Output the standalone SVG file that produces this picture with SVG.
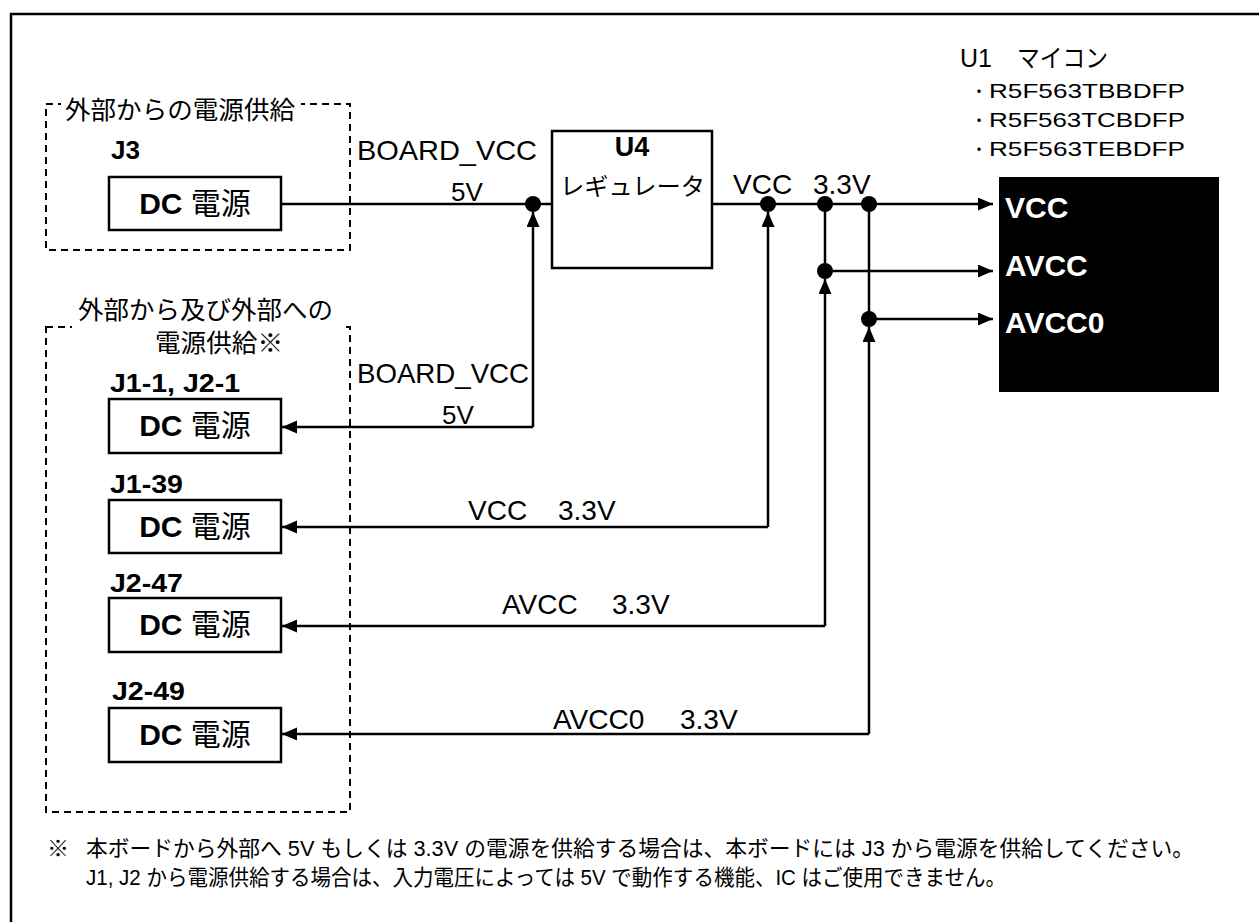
<svg xmlns="http://www.w3.org/2000/svg" width="1259" height="922" viewBox="0 0 1259 922">
<style>
text{font-family:"Liberation Sans","Noto Sans CJK JP",sans-serif;fill:#000}
.b{font-weight:bold}
.box{fill:#fff;stroke:#000;stroke-width:2.5}
.dash{fill:none;stroke:#000;stroke-width:2;stroke-dasharray:7 5}
.ln{fill:none;stroke:#000;stroke-width:2.5}
.arr{marker-end:url(#ah)}
.lbl{font-size:28px}
.dc{font-size:30px}
.jl{font-size:25px;font-weight:bold}
.pin{font-size:30px;font-weight:bold;fill:#fff}
.pn{font-size:21px}
.dot{font-size:16px}
</style>
<defs>
<marker id="ah" markerUnits="userSpaceOnUse" markerWidth="16" markerHeight="14" refX="15" refY="6.5" orient="auto">
<path d="M0,0 L15,6.5 L0,13 z" fill="#000"/>
</marker>
</defs>
<rect width="1259" height="922" fill="#fff"/>
<path d="M11,922 V14 H1259" fill="none" stroke="#000" stroke-width="2.5"/>

<g id="group-external">
<rect class="dash" x="46" y="104" width="304" height="146"/>
<rect x="61" y="98" width="240" height="12" fill="#fff"/>
<text x="65" y="119" font-size="25" textLength="230" lengthAdjust="spacingAndGlyphs">外部からの電源供給</text>
</g>
<g id="group-bidir">
<rect class="dash" x="46" y="327" width="304" height="485"/>
<rect x="72" y="322" width="273" height="10" fill="#fff"/>
<text x="78" y="319" font-size="25" textLength="255" lengthAdjust="spacingAndGlyphs">外部から及び外部への</text>
<text x="155" y="352" font-size="25" textLength="128" lengthAdjust="spacingAndGlyphs">電源供給※</text>
</g>

<g id="j3">
<text class="jl" x="111" y="159" textLength="29" lengthAdjust="spacingAndGlyphs">J3</text>
<rect class="box" x="109" y="177" width="172" height="53"/>
<text class="dc" x="195" y="214" text-anchor="middle"><tspan class="b">DC</tspan> 電源</text>
</g>
<g id="j1-1">
<text class="jl" x="110" y="392" textLength="130" lengthAdjust="spacingAndGlyphs">J1-1, J2-1</text>
<rect class="box" x="109" y="399" width="172" height="54"/>
<text class="dc" x="195" y="436" text-anchor="middle"><tspan class="b">DC</tspan> 電源</text>
</g>
<g id="j1-39">
<text class="jl" x="110" y="493" textLength="73" lengthAdjust="spacingAndGlyphs">J1-39</text>
<rect class="box" x="109" y="500" width="172" height="53"/>
<text class="dc" x="195" y="537" text-anchor="middle"><tspan class="b">DC</tspan> 電源</text>
</g>
<g id="j2-47">
<text class="jl" x="110" y="592" textLength="73" lengthAdjust="spacingAndGlyphs">J2-47</text>
<rect class="box" x="109" y="598" width="172" height="54"/>
<text class="dc" x="195" y="635" text-anchor="middle"><tspan class="b">DC</tspan> 電源</text>
</g>
<g id="j2-49">
<text class="jl" x="112" y="700" textLength="73" lengthAdjust="spacingAndGlyphs">J2-49</text>
<rect class="box" x="109" y="708" width="172" height="54"/>
<text class="dc" x="195" y="745" text-anchor="middle"><tspan class="b">DC</tspan> 電源</text>
</g>

<g id="u4">
<rect class="box" x="552" y="131" width="160" height="137"/>
<text class="b" x="632" y="156" font-size="27" text-anchor="middle">U4</text>
<text x="560" y="195" font-size="24" textLength="145" lengthAdjust="spacingAndGlyphs">レギュレータ</text>
</g>

<g id="u1">
<text x="960" y="67" font-size="25">U1<tspan x="1017" textLength="91" lengthAdjust="spacingAndGlyphs">マイコン</tspan></text>
<text class="dot" x="971" y="97">・</text>
<text class="pn" x="989" y="98" textLength="196" lengthAdjust="spacingAndGlyphs">R5F563TBBDFP</text>
<text class="dot" x="971" y="126">・</text>
<text class="pn" x="989" y="127" textLength="196" lengthAdjust="spacingAndGlyphs">R5F563TCBDFP</text>
<text class="dot" x="971" y="155">・</text>
<text class="pn" x="989" y="156" textLength="196" lengthAdjust="spacingAndGlyphs">R5F563TEBDFP</text>
<rect x="999" y="177" width="220" height="215" fill="#000"/>
<text class="pin" x="1005" y="218" style="fill:#fff">VCC</text>
<text class="pin" x="1005" y="276" style="fill:#fff">AVCC</text>
<text class="pin" x="1005" y="333" style="fill:#fff">AVCC0</text>
</g>

<g id="connectors">
<path class="ln" d="M281,204 H552"/>
<path class="ln arr" d="M712,204 H993"/>
<path class="ln arr" d="M825,204 V271 H993"/>
<path class="ln arr" d="M869,204 V319 H993"/>
<path class="ln arr" d="M533,427 V212"/>
<path class="ln arr" d="M533,427 H282"/>
<path class="ln arr" d="M768,527 V212"/>
<path class="ln arr" d="M768,527 H282"/>
<path class="ln arr" d="M825,626 V279"/>
<path class="ln arr" d="M825,626 H282"/>
<path class="ln arr" d="M869,734 V327"/>
<path class="ln arr" d="M869,734 H282"/>
<g fill="#000">
<circle cx="533" cy="204" r="8"/>
<circle cx="768" cy="204" r="8"/>
<circle cx="825" cy="204" r="8"/>
<circle cx="869" cy="204" r="8"/>
<circle cx="825" cy="271" r="8"/>
<circle cx="869" cy="319" r="8"/>
</g>
<text class="lbl" x="357" y="160" textLength="180" lengthAdjust="spacingAndGlyphs">BOARD_VCC</text>
<text x="451" y="201" font-size="26">5V</text>
<text class="lbl" x="733" y="194">VCC<tspan x="813">3.3V</tspan></text>
<text class="lbl" x="357" y="383" textLength="172" lengthAdjust="spacingAndGlyphs">BOARD_VCC</text>
<text x="442" y="424" font-size="26">5V</text>
<text class="lbl" x="468" y="520">VCC<tspan x="558">3.3V</tspan></text>
<text class="lbl" x="502" y="614">AVCC<tspan x="612">3.3V</tspan></text>
<text class="lbl" x="553" y="729">AVCC0<tspan x="680">3.3V</tspan></text>
</g>

<g id="footnote">
<text x="47" y="856" font-size="22">※</text>
<text x="86" y="856" font-size="22" textLength="1108" lengthAdjust="spacingAndGlyphs">本ボードから外部へ 5V もしくは 3.3V の電源を供給する場合は、本ボードには J3 から電源を供給してください。</text>
<text x="86" y="885" font-size="22" textLength="920" lengthAdjust="spacingAndGlyphs">J1, J2 から電源供給する場合は、入力電圧によっては 5V で動作する機能、IC はご使用できません。</text>
</g>
</svg>
